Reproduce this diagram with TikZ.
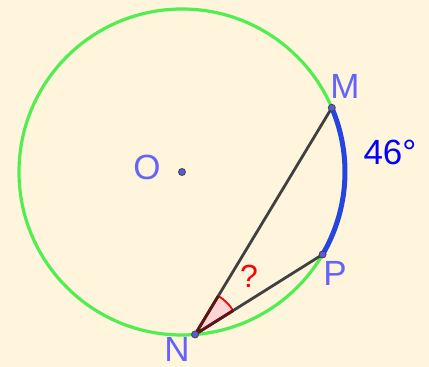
\documentclass[tikz,border=0pt]{standalone}
\usepackage{fontspec}
\setmainfont{Liberation Sans}
\usepackage{tikz}
\usetikzlibrary{calc}
\definecolor{bgcream}{RGB}{255,245,221}
\definecolor{circgreen}{RGB}{80,238,80}
\definecolor{arcblue}{RGB}{36,70,222}
\definecolor{segdark}{RGB}{64,64,64}
\definecolor{labblue}{RGB}{100,100,250}
\definecolor{wedgepink}{RGB}{255,212,212}
\definecolor{wedgedark}{RGB}{95,20,20}

\begin{document}
\begin{tikzpicture}[
  x=1pt,y=1pt,
  circ/.style={circgreen,line width=3.2pt},
  arcm/.style={arcblue,line width=5pt},
  seg/.style={segdark,line width=2.8pt},
  pt/.style={circle,draw=black!75,fill=labblue!90!black,line width=0.8pt,minimum size=7pt,inner sep=0pt},
  lab/.style={font=\fontsize{35}{38}\selectfont,text=labblue,inner sep=0pt}]
\useasboundingbox[fill=bgcream] (0,0) rectangle (429,367);
% ---- circle and points ----
\coordinate (O) at (182,195);
\coordinate (M) at ($(O)+(23.2:163)$);
\coordinate (P) at ($(O)+(-30.4:163)$);
\coordinate (N) at ($(O)+(-85.4:163)$);
\draw[circ] (O) circle[radius=163];
\draw[arcm] (M) arc[start angle=23.2,end angle=-30.4,radius=163];
% ---- angle at N ----
\fill[wedgepink] (N) -- +(32.1:45) arc[start angle=32.1,end angle=58.9,radius=45] -- cycle;
\draw[red,line width=1.8pt] ($(N)+(32.1:45)$) arc[start angle=32.1,end angle=58.9,radius=45];
\draw[seg] (N) -- (M);
\draw[seg] (N) -- (P);
\draw[wedgedark,line width=2.8pt] (N) -- +(32.1:45) (N) -- +(58.9:45);
% ---- points and labels ----
\node[pt] (o) at (O) {};
\node[pt] (m) at (M) {};
\node[pt] (p) at (P) {};
\node[pt] (n) at (N) {};
\node[lab] (lo) at (147,200) {O};
\node[lab] (lm) at (345,281) {M};
\node[lab] (lp) at (335,94) {P};
\node[lab] (ln) at (177,18) {N};
\node[lab,text=blue] (la) at (390,215) {46°};
\node[lab,text=red,font=\fontsize{32}{35}\selectfont] (lq) at (249,91) {?};
\end{tikzpicture}
\end{document}
